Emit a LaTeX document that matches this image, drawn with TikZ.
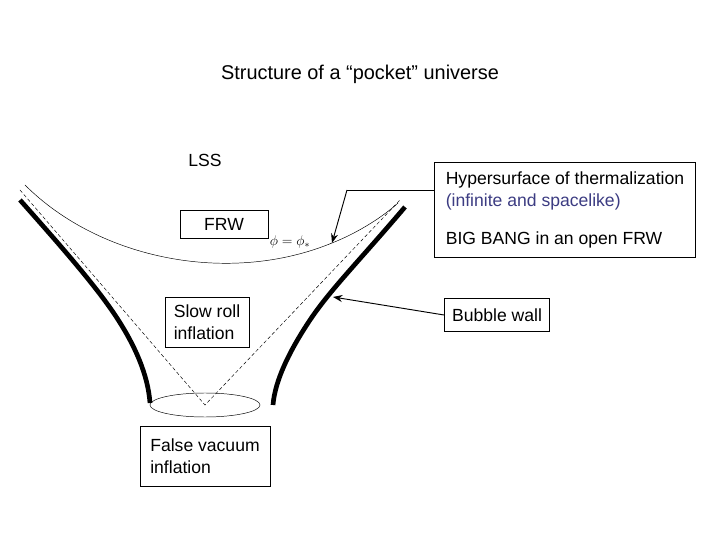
\documentclass[tikz,border=0pt]{standalone}
\usepackage{fontspec}
\setmainfont{Liberation Sans}
\usetikzlibrary{arrows.meta,positioning}
\definecolor{noteblue}{RGB}{60,60,130}
\tikzset{
  lbl/.style={font=\fontsize{15}{19}\selectfont, align=left},
  box/.style={lbl, draw, thick, inner sep=4pt},
  wall/.style={line width=4pt},
  light/.style={thin},
  cone/.style={thin, dash pattern=on 3pt off 2pt},
  pointer/.style={thick, -{Stealth[length=8pt]}}
}
\begin{document}
\begin{tikzpicture}[x=0.03cm, y=-0.03cm]
    \useasboundingbox (0,0) rectangle (720,540);

    % Labels
    \node[lbl, font=\fontsize{17}{20}\selectfont] (title) at (360,74) {Structure of a “pocket” universe};
    \node[lbl] (lss) at (205,160) {LSS};
    \node[box, minimum width=88*0.03cm, minimum height=28*0.03cm] (frw) at (224,224) {FRW};
    \node[box, minimum width=84*0.03cm, minimum height=50*0.03cm] (slow) at (207,322) {Slow roll\\inflation};
    \node[box, minimum width=130*0.03cm, minimum height=60*0.03cm] (vac) at (205,456) {False vacuum\\inflation};
    \node[box, minimum width=261*0.03cm, minimum height=95*0.03cm, anchor=north west] (hyper) at (434,162)
        {Hypersurface of thermalization\\\textcolor{noteblue}{(infinite and spacelike)}\\[14pt]BIG BANG in an open FRW};
    \node[box, minimum width=105*0.03cm, minimum height=33*0.03cm] (bubble) at (497,315) {Bubble wall};
    \node[font=\fontsize{12}{14}\selectfont] (phi) at (290,242) {$\phi=\phi_{*}$};

    % Bubble geometry
    \coordinate (tip) at (205,405);
    \coordinate (cl) at (20,190);
    \coordinate (cr) at (400,200);
    \coordinate (hit) at (332,243);
    \coordinate (kink) at (347,190);
    \coordinate (wallpt) at (333,297);
    \draw[light] (tip) ellipse (55 and 12);
    \draw[cone] (cl) -- (tip) -- (cr);
    \draw[light] (25,185) .. controls (100,260) and (230,285) .. (hit)
        .. controls (360,232) and (385,215) .. (398,203);
    \draw[wall] (20,200) .. controls (60,245) and (95,285) .. (115,315)
        .. controls (135,345) and (148,375) .. (150,403);
    \draw[wall] (405,207) .. controls (360,260) and (330,290) .. (310,320)
        .. controls (290,350) and (275,380) .. (273,405);

    % Pointers
    \draw[thick] (hyper.west |- kink) -- (kink);
    \draw[pointer] (kink) -- (hit);
    \draw[pointer] (bubble.west) -- (wallpt);
\end{tikzpicture}
\end{document}
